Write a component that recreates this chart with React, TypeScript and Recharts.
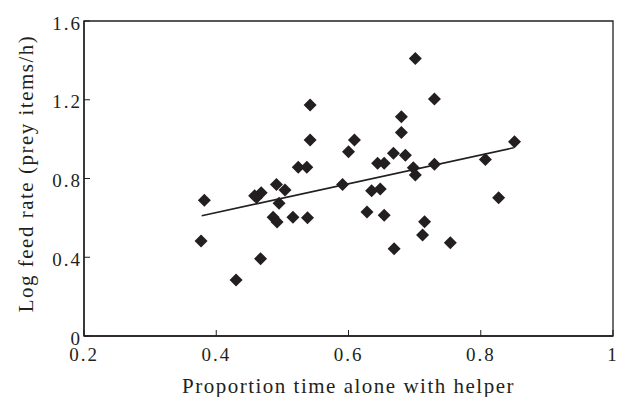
import React from 'react';
import { ScatterChart, Scatter, XAxis, YAxis, ReferenceArea } from 'recharts';

const xValues = [
  0.377, 0.382, 0.430, 0.467, 0.461, 0.468, 0.491, 0.504, 0.495, 0.486, 0.492,
  0.516, 0.538, 0.591, 0.542, 0.542, 0.524, 0.537, 0.600, 0.609, 0.701, 0.730,
  0.680, 0.680, 0.668, 0.686, 0.644, 0.654, 0.698, 0.701, 0.730, 0.807, 0.851,
  0.635, 0.648, 0.827, 0.628, 0.654, 0.715, 0.712, 0.754, 0.669, 0.458,
];
const yValues = [
  0.482, 0.689, 0.284, 0.393, 0.704, 0.728, 0.770, 0.741, 0.674, 0.603, 0.579,
  0.603, 0.601, 0.770, 1.173, 0.995, 0.857, 0.857, 0.936, 0.995, 1.410, 1.204,
  1.114, 1.034, 0.928, 0.918, 0.877, 0.877, 0.855, 0.818, 0.872, 0.897, 0.987,
  0.738, 0.747, 0.702, 0.630, 0.613, 0.580, 0.513, 0.474, 0.443, 0.713,
];
const fitX = [0.378, 0.850];
const fitY = [0.611, 0.956];
const xTicks = [0.2, 0.4, 0.6, 0.8, 1];
const yTicks = [0, 0.4, 0.8, 1.2, 1.6];

const points = xValues.map((x, i) => ({ x, y: yValues[i] }));
const fitLine = fitX.map((x, i) => ({ x, y: fitY[i] }));

const INK = '#231f20';
const FONT = '"Liberation Serif", "Times New Roman", serif';

const Diamond = (props: any) => {
  const { cx, cy } = props;
  const r = 6.5;
  return (
    <path
      d={`M${cx},${cy - r}L${cx + r},${cy}L${cx},${cy + r}L${cx - r},${cy}Z`}
      fill={INK}
    />
  );
};

const NoShape = () => <g />;

export default function App() {
  return (
    <div style={{ position: 'absolute', left: 0, top: 0 }}>
      <ScatterChart
        width={625}
        height={397}
        margin={{ top: 21, right: 12, bottom: 0, left: 0 }}
      >
        <XAxis
          type="number"
          dataKey="x"
          domain={[0.2, 1]}
          ticks={xTicks}
          allowDataOverflow
          height={61}
          tickSize={-6}
          tickMargin={18}
          axisLine={{ stroke: INK, strokeWidth: 1.3 }}
          tickLine={{ stroke: INK, strokeWidth: 1 }}
          tick={{ fill: INK, fontSize: 19, fontFamily: FONT, style: { letterSpacing: '2px' } }}
          label={{
            value: 'Proportion time alone with helper',
            position: 'insideBottom',
            offset: 4,
            fill: INK,
            fontSize: 21,
            fontFamily: FONT,
            style: { letterSpacing: '1.5px' },
          }}
        />
        <YAxis
          type="number"
          dataKey="y"
          domain={[0, 1.6]}
          ticks={yTicks}
          allowDataOverflow
          width={84}
          tickSize={-6}
          tickMargin={8}
          axisLine={{ stroke: INK, strokeWidth: 1.3 }}
          tickLine={{ stroke: INK, strokeWidth: 1 }}
          tick={{ fill: INK, fontSize: 19, fontFamily: FONT, dy: 2, style: { letterSpacing: '2px' } }}
          label={{
            value: 'Log feed rate (prey items/h)',
            angle: -90,
            position: 'insideLeft',
            offset: 26,
            dy: -5,
            fill: INK,
            fontSize: 21,
            fontFamily: FONT,
            style: { textAnchor: 'middle', letterSpacing: '1.5px' },
          }}
        />
        <ReferenceArea
          x1={0.2}
          x2={1}
          y1={0}
          y2={1.6}
          fill="none"
          stroke={INK}
          strokeWidth={1.3}
          fillOpacity={0}
        />
        <Scatter
          data={fitLine}
          line={{ stroke: INK, strokeWidth: 1.6 }}
          shape={NoShape}
          isAnimationActive={false}
        />
        <Scatter data={points} shape={Diamond} isAnimationActive={false} />
      </ScatterChart>
    </div>
  );
}
